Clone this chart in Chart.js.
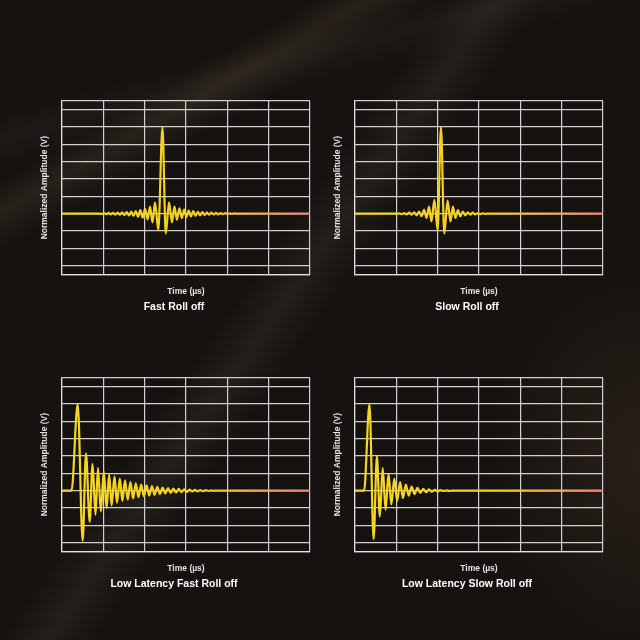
<!DOCTYPE html>
<html>
<head>
<meta charset="utf-8">
<script src="https://cdn.jsdelivr.net/npm/chart.js@4.4.1/dist/chart.umd.min.js"></script>
<style>
  html, body { margin: 0; padding: 0; }
  body {
    width: 640px; height: 640px; position: relative; overflow: hidden;
    background:
      linear-gradient(150deg, transparent 18%, rgba(200,170,115,0.10) 21%, transparent 25%),
      linear-gradient(125deg, transparent 41%, rgba(150,130,105,0.11) 45.5%, transparent 50%),
      linear-gradient(165deg, transparent 14%, rgba(160,150,140,0.05) 17%, transparent 21%),
      radial-gradient(ellipse 200px 260px at 100% 72%, rgba(120,90,55,0.20), transparent 75%),
      #151210;
  }
  canvas { position: absolute; }
</style>
</head>
<body>
<canvas id="c1" width="276" height="216" style="left:38px;top:97px"></canvas>
<canvas id="c2" width="276" height="216" style="left:331px;top:97px"></canvas>
<canvas id="c3" width="276" height="216" style="left:38px;top:374px"></canvas>
<canvas id="c4" width="276" height="216" style="left:331px;top:374px"></canvas>
<script>
// grid positions (time in tenths of a division, amplitude normalised to the main peak)
const xTicks = [0, 10, 20, 30, 40, 50, 60];
const yTicks = [-0.7, -0.6, -0.4, -0.2, 0, 0.2, 0.4, 0.6, 0.8, 1.0, 1.2, 1.3];

const panelTitles = ['Fast Roll off', 'Slow Roll off', 'Low Latency Fast Roll off', 'Low Latency Slow Roll off'];

// waveform extremes: [time, amplitude]
const fastRollOff = [
  [0, 0], [9.0, 0], [9.6, -0.004], [10.15, 0.006], [10.7, -0.007], [11.25, 0.008], [11.8, -0.009],
  [12.35, 0.01], [12.9, -0.011], [13.45, 0.012], [14.0, -0.013], [14.55, 0.014], [15.1, -0.016],
  [15.65, 0.018], [16.2, -0.02], [16.75, 0.023], [17.3, -0.026], [17.85, 0.03], [18.4, -0.035],
  [18.95, 0.04], [19.5, -0.045], [20.1, 0.055], [20.7, -0.065], [21.3, 0.08], [21.9, -0.1],
  [22.5, 0.13], [23.3, -0.19], [24.3, 1.0], [25.1, -0.23], [25.9, 0.13], [26.6, -0.1],
  [27.2, 0.08], [27.8, -0.07], [28.4, 0.06], [29.0, -0.052], [29.55, 0.046], [30.1, -0.04],
  [30.65, 0.036], [31.2, -0.032], [31.75, 0.028], [32.3, -0.025], [32.85, 0.022], [33.4, -0.02],
  [33.95, 0.018], [34.5, -0.016], [35.05, 0.014], [35.6, -0.012], [36.15, 0.011], [36.7, -0.01],
  [37.25, 0.009], [37.8, -0.008], [38.35, 0.007], [38.9, -0.006], [39.45, 0.005], [40.0, -0.004],
  [40.55, 0.003], [41.1, -0.002], [41.65, 0.002], [42.2, 0], [60, 0]
];

const slowRollOff = [
  [0, 0], [10.1, 0], [10.7, 0.004], [11.3, -0.005], [11.9, 0.007], [12.5, -0.009], [13.1, 0.011],
  [13.7, -0.013], [14.3, 0.016], [14.9, -0.02], [15.5, 0.025], [16.1, -0.03], [16.7, 0.045],
  [17.3, -0.05], [17.9, 0.08], [18.5, -0.09], [19.2, 0.16], [20.0, -0.19], [20.8, 1.0],
  [21.6, -0.23], [22.4, 0.15], [23.1, -0.09], [23.7, 0.08], [24.3, -0.05], [24.9, 0.04],
  [25.5, -0.03], [26.1, 0.025], [26.7, -0.02], [27.3, 0.016], [27.9, -0.013], [28.5, 0.011],
  [29.1, -0.009], [29.7, 0.007], [30.3, -0.005], [30.9, 0.004], [31.5, -0.002], [32.0, 0], [60, 0]
];

const lowLatencyFast = [
  [0, 0], [2.3, 0], [3.8, 1.0], [5.0, -0.58], [5.8, 0.43], [6.7, -0.36], [7.4, 0.31], [8.1, -0.28],
  [8.7, 0.26], [9.4, -0.24], [10.1, 0.22], [10.8, -0.2], [11.4, 0.185], [12.0, -0.17], [12.7, 0.165],
  [13.3, -0.14], [14.0, 0.14], [14.6, -0.12], [15.25, 0.12], [15.9, -0.105], [16.55, 0.1],
  [17.2, -0.09], [17.85, 0.085], [18.5, -0.075], [19.15, 0.07], [19.8, -0.065], [20.45, 0.06],
  [21.1, -0.056], [21.75, 0.052], [22.4, -0.048], [23.05, 0.045], [23.7, -0.04], [24.35, 0.036],
  [25.0, -0.033], [25.65, 0.03], [26.3, -0.027], [26.95, 0.025], [27.6, -0.022], [28.25, 0.02],
  [28.9, -0.018], [29.55, 0.016], [30.2, -0.014], [30.85, 0.012], [31.5, -0.01], [32.15, 0.009],
  [32.8, -0.008], [33.45, 0.007], [34.1, -0.006], [34.75, 0.005], [35.4, -0.004], [36.05, 0.003],
  [36.7, -0.002], [37.35, 0.001], [38.0, 0], [60, 0]
];

const lowLatencySlow = [
  [0, 0], [2.2, 0], [3.5, 1.0], [4.5, -0.56], [5.3, 0.40], [6.0, -0.30], [6.7, 0.26], [7.4, -0.22],
  [8.1, 0.19], [8.8, -0.16], [9.5, 0.14], [10.2, -0.12], [10.9, 0.1], [11.6, -0.085], [12.3, 0.07],
  [13.0, -0.058], [13.7, 0.048], [14.4, -0.04], [15.1, 0.033], [15.8, -0.027], [16.5, 0.022],
  [17.2, -0.018], [17.9, 0.015], [18.6, -0.012], [19.3, 0.01], [20.0, -0.008], [20.7, 0.006],
  [21.4, -0.004], [22.1, 0.003], [22.8, -0.002], [23.5, 0], [60, 0]
];

const gridColor = 'rgba(228, 228, 228, 0.9)';
const fontFamily = '"Liberation Sans", Arial, sans-serif';

// yellow trace fading into salmon at the right edge
function traceColor(context) {
  const area = context.chart.chartArea;
  if (!area) return '#f5d21e';
  const g = context.chart.ctx.createLinearGradient(area.left, 0, area.right, 0);
  g.addColorStop(0, '#f6d624');
  g.addColorStop(0.5, '#f4d01e');
  g.addColorStop(0.75, '#f0b84c');
  g.addColorStop(1, '#ec8482');
  return g;
}

function makePanel(canvasId, points, title) {
  return new Chart(document.getElementById(canvasId), {
    type: 'line',
    data: {
      datasets: [{
        data: points.map(p => ({ x: p[0], y: p[1] })),
        borderColor: traceColor,
        borderWidth: 2.2,
        borderJoinStyle: 'round',
        pointRadius: 0,
        cubicInterpolationMode: 'monotone',
        fill: false
      }]
    },
    options: {
      responsive: false,
      animation: false,
      devicePixelRatio: 1,
      layout: { padding: { top: 4, right: 4, left: 0, bottom: 0 } },
      plugins: {
        legend: { display: false },
        tooltip: { enabled: false },
        title: {
          display: true,
          position: 'bottom',
          text: title,
          color: '#ffffff',
          font: { family: fontFamily, size: 10.5, weight: 'bold' },
          padding: { top: 3.7, bottom: 0 }
        }
      },
      scales: {
        x: {
          type: 'linear',
          min: 0,
          max: 60,
          afterBuildTicks: s => { s.ticks = xTicks.map(v => ({ value: v })); },
          afterFit: s => { s.height = 22.4; },
          ticks: { display: false },
          grid: { color: gridColor, lineWidth: 1.2, drawTicks: false },
          border: { display: true, color: gridColor, width: 1.2 },
          title: {
            display: true,
            text: 'Time (µs)',
            color: '#e4e4e4',
            font: { family: fontFamily, size: 8.5, weight: 'bold' },
            padding: 0
          }
        },
        y: {
          type: 'linear',
          min: -0.7,
          max: 1.3,
          afterBuildTicks: s => { s.ticks = yTicks.map(v => ({ value: v })); },
          afterFit: s => { s.width = 24; },
          ticks: { display: false },
          grid: { color: gridColor, lineWidth: 1.2, drawTicks: false },
          border: { display: true, color: gridColor, width: 1.2 },
          title: {
            display: true,
            text: 'Normalized Amplitude (V)',
            color: '#e4e4e4',
            font: { family: fontFamily, size: 8.5, weight: 'bold' },
            padding: { top: 2, bottom: 0 }
          }
        }
      }
    }
  });
}

makePanel('c1', fastRollOff, panelTitles[0]);
makePanel('c2', slowRollOff, panelTitles[1]);
makePanel('c3', lowLatencyFast, panelTitles[2]);
makePanel('c4', lowLatencySlow, panelTitles[3]);
</script>
</body>
</html>
